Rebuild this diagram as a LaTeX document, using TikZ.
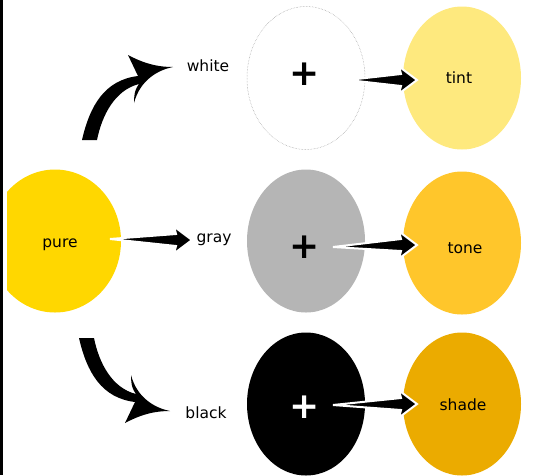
\documentclass[tikz,border=0pt]{standalone}
\usepackage{fontspec}
\setmainfont{DejaVu Sans}
\usetikzlibrary{shapes.geometric,calc}
\definecolor{pureC}{HTML}{FFD700}
\definecolor{tintC}{HTML}{FEE97E}
\definecolor{toneC}{HTML}{FFC62B}
\definecolor{shadeC}{HTML}{EBAB00}
\definecolor{grayC}{HTML}{B5B5B5}
\newcommand\taperarrow[2]{%
  \path[tarr] (#1) -- ($(#2)+(-16,-6)$) -- ($(#2)+(-18,-13.5)$) -- (#2)
    -- ($(#2)+(-18,13.5)$) -- ($(#2)+(-16,6)$) -- cycle;}
\begin{document}
\begin{tikzpicture}[x=1pt,y=-1pt,
  blob/.style={ellipse, minimum width=118pt, minimum height=143pt, inner sep=0pt},
  lbl/.style={font=\fontsize{15.5}{18}\selectfont, anchor=base, inner sep=0pt},
  plus/.style={font=\fontsize{36}{40}\selectfont\bfseries, inner sep=0pt},
  tarr/.style={fill=black, draw=white, line width=2pt, line join=miter},
  carr/.style={fill=black}]
\useasboundingbox (0,0) rectangle (535,475);
\fill[black] (0,0) rectangle (2.5,475);
% ellipses
\begin{scope}
  \clip (7,0) rectangle (535,475);
  \node[blob, fill=pureC, minimum width=132pt] (pure) at (55,241) {};
\end{scope}
\node[blob, draw=gray!80, densely dotted, line width=0.5pt] (ewhite) at (306,78) {};
\node[blob, fill=grayC] (egray) at (306,241) {};
\node[blob, fill=black] (eblack) at (306,404) {};
\node[blob, fill=tintC] (tint) at (462,78) {};
\node[blob, fill=toneC] (tone) at (462,243) {};
\node[blob, fill=shadeC] (shade) at (462,404) {};
% plus signs
\node[plus] (p1) at (305,74) {+};
\node[plus] (p2) at (305,247) {+};
\node[plus, text=white] (p3) at (305,407) {+};
% labels
\node[lbl] (lpure) at (60,247) {pure};
\node[lbl] (lwhite) at (208,71) {white};
\node[lbl] (lgray) at (214,242) {gray};
\node[lbl] (lblack) at (206,418) {black};
\node[lbl] (ltint) at (459,83) {tint};
\node[lbl] (ltone) at (465,253) {tone};
\node[lbl] (lshade) at (463,410) {shade};
% straight tapered arrows
\coordinate (a0s) at (110,239);
\coordinate (a0e) at (192,240);
\coordinate (a1s) at (348,80);
\coordinate (a1e) at (417,80);
\coordinate (a2s) at (333,247);
\coordinate (a2e) at (417,245);
\coordinate (a3s) at (333,405);
\coordinate (a3e) at (417,404);
\taperarrow{a0s}{a0e}
\taperarrow{a1s}{a1e}
\taperarrow{a2s}{a2e}
\taperarrow{a3s}{a3e}
% curved arrows
\path[carr] (82,140) .. controls (90,105) and (105,80) .. (138,76)
  -- (128,55) .. controls (145,64) and (158,67) .. (173,67)
  .. controls (158,70) and (140,80) .. (134,103)
  .. controls (134,92) and (136,88) .. (139,84)
  .. controls (115,90) and (102,115) .. (97,140) -- cycle;
\path[carr] (79,338) .. controls (87,373) and (102,398) .. (135,402)
  -- (125,423) .. controls (142,414) and (155,411) .. (170,411)
  .. controls (155,408) and (137,398) .. (131,375)
  .. controls (131,386) and (133,390) .. (136,394)
  .. controls (112,388) and (99,363) .. (94,338) -- cycle;
\end{tikzpicture}
\end{document}
